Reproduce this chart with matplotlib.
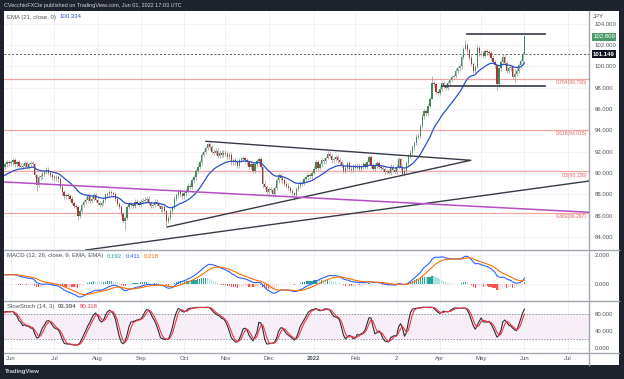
import numpy as np
import matplotlib.pyplot as plt
from matplotlib.patches import Rectangle
from matplotlib.lines import Line2D
from matplotlib.ticker import FormatStrFormatter

plt.rcParams['font.family'] = ['Liberation Sans', 'DejaVu Sans']

W, H = 624, 379

# ---------------------------------------------------------------
# datos: cierres diarios CAD/JPY (un valor por dia habil)
# warmup = abr-may 2021, solo para que arranquen EMA / MACD / estocastico
warmup_closes = [87.9, 87.7, 87.5, 87.3, 87.2,
                 87.0, 87.1, 86.9, 86.8, 86.9,
                 86.4, 86.2, 87.4, 87.5, 87.3,
                 87.6, 87.8, 88.1, 88.7, 89.0,
                 88.8, 89.1, 89.3, 89.9, 90.2,
                 90.4, 90.1, 89.8, 89.7, 90.1,
                 90.2, 90.4, 90.0, 90.3, 90.2,
                 90.3, 90.4, 90.6, 90.8, 91.0,
                 90.9]
jun21 = [91.0, 91.2, 90.8, 91.0,
         90.7, 90.6, 90.7, 90.9, 90.6,
         90.8, 90.9, 90.8, 89.8, 88.9,
         89.6, 89.7, 89.9, 90.1, 90.3,
         90.0, 89.8, 89.6]
jul21 = [89.5, 89.6,
         89.4, 88.7, 88.2, 87.8, 87.9,
         87.8, 87.6, 87.2, 86.9, 86.8,
         86.0, 86.4, 87.0, 87.3, 87.5,
         87.8, 87.4, 87.6, 87.9, 87.5]
aug21 = [87.2, 87.0, 87.2, 87.5, 87.9,
         88.0, 88.2, 88.1, 88.0, 87.6,
         87.1, 86.8, 86.2, 85.5, 85.8,
         86.8, 87.1, 87.0, 86.9, 87.3,
         87.2, 87.0]
sep21 = [87.3, 87.4, 87.5,
         87.6, 87.2, 86.9, 87.0, 87.3,
         87.1, 86.9, 86.6, 86.8, 86.4,
         85.5, 85.8, 86.4, 86.8, 87.6,
         87.9, 88.3, 88.0, 87.8]
oct21 = [88.1,
         88.3, 88.8, 88.7, 89.3, 89.6,
         90.2, 90.6, 91.0, 91.7, 92.0,
         92.3, 92.7, 92.4, 92.0, 91.9,
         92.1, 91.6, 91.9, 91.7, 91.9]
nov21 = [91.8, 91.5, 91.7, 91.0, 91.2,
         91.0, 90.7, 91.2, 91.3, 91.4,
         91.2, 91.0, 90.6, 90.8, 90.2,
         90.8, 91.1, 91.3, 90.6, 89.0,
         88.7, 88.2]
dec21 = [88.5, 88.4, 88.0,
         88.6, 89.3, 89.8, 89.5, 89.3,
         89.0, 88.8, 88.6, 88.3, 88.1,
         87.9, 88.5, 88.8, 89.0, 89.1,
         89.4, 89.6, 89.8, 89.7, 90.0]
jan22 = [90.4, 91.0, 90.5, 90.8, 91.2,
         91.1, 91.4, 91.8, 91.6, 91.2,
         91.3, 91.5, 91.2, 91.0, 90.7,
         90.2, 90.5, 90.9, 90.4, 90.3,
         90.6]
feb22 = [90.5, 90.7, 90.4, 90.6,
         90.8, 90.6, 91.0, 91.5, 90.7,
         90.4, 90.7, 90.9, 90.6, 90.5,
         90.4, 90.1, 90.2, 90.0, 90.6,
         90.3]
mar22 = [90.1, 90.6, 91.3, 90.5,
         89.9, 90.2, 90.9, 91.6, 91.9,
         92.4, 92.8, 93.4, 93.5, 94.4,
         95.3, 95.8, 95.6, 96.3, 96.9,
         98.4, 98.3, 97.6, 97.5]
apr22 = [97.9,
         98.4, 98.2, 98.0, 98.4, 98.7,
         99.0, 99.1, 99.6, 99.8, 100.0,
         100.9, 101.6, 102.0, 101.5, 100.8,
         100.2, 99.6, 99.9, 101.7, 101.2]
may22 = [101.2, 101.0, 101.4, 101.3, 101.2,
         100.8, 100.4, 100.1, 98.3, 99.8,
         100.4, 100.9, 100.3, 99.6, 99.8,
         99.9, 99.0, 99.3, 99.6, 100.1,
         100.5, 101.15]
jun22 = [102.809]

# mechas largas (indice de barra desde 1-jun-2021: (maximo, minimo))
long_wicks = {12: (90.9, 89.6), 13: (89.9, 88.3), 34: (87.0, 85.6), 57: (86.3, 85.3),
              58: (86.0, 84.7), 79: (86.5, 85.0), 100: (92.85, 92.2), 128: (90.7, 88.6),
              144: (88.2, 87.5), 161: (92.1, 91.3), 200: (90.4, 89.75), 214: (99.05, 97.4),
              231: (102.45, 101.5), 237: (102.0, 99.8), 247: (100.2, 97.8), 256: (99.7, 98.5),
              261: (102.87, 101.1)}
wick = 0.22

# etiquetas del eje de tiempo (indice de barra)
month_pos = [0, 22, 44, 66, 88, 109, 131, 154, 175, 196, 218, 239, 261, 283]
month_lab = ['Jun', 'Jul', 'Aug', 'Sep', 'Oct', 'Nov', 'Dec', '2022', 'Feb', '2', 'Apr', 'May', 'Jun', 'Jul']

fib_levels = [98.790, 94.015, 90.156, 86.297]
fib_names = ['0.764', '0.618', '0.5', '0.382']
prev_close = 101.149

# ---------------------------------------------------------------
closes = np.array(warmup_closes + jun21 + jul21 + aug21 + sep21 + oct21 + nov21 +
                  dec21 + jan22 + feb22 + mar22 + apr22 + may22 + jun22)
n0 = len(warmup_closes)
x = np.arange(len(closes)) - n0
opens = np.r_[closes[0], closes[:-1]]
highs = np.maximum(opens, closes) + wick
lows = np.minimum(opens, closes) - wick
for k, (hi, lo) in long_wicks.items():
    highs[k + n0] = max(hi, max(opens[k + n0], closes[k + n0]))
    lows[k + n0] = min(lo, min(opens[k + n0], closes[k + n0]))


def ema(v, n):
    a = 2 / (n + 1)
    out = np.empty(len(v))
    out[0] = v[0]
    for i in range(1, len(v)):
        out[i] = a * v[i] + (1 - a) * out[i - 1]
    return out


def sma(v, n):
    out = np.copy(v)
    for i in range(n - 1, len(v)):
        out[i] = np.mean(v[i - n + 1:i + 1])
    return out


ema21 = ema(closes, 21)
macd = ema(closes, 12) - ema(closes, 26)
signal = ema(macd, 9)
hist = macd - signal

rawk = np.full(len(closes), 50.0)
for i in range(13, len(closes)):
    ll = lows[i - 13:i + 1].min()
    hh = highs[i - 13:i + 1].max()
    rawk[i] = 100 * (closes[i] - ll) / (hh - ll)
stk = sma(rawk, 3)
std = sma(stk, 3)

# ---------------------------------------------------------------
fig = plt.figure(figsize=(W / 100, H / 100), dpi=100, facecolor='#1e222d')
fig.patches.append(Rectangle((4 / W, 1 - 365 / H), 615 / W, 354 / H, transform=fig.transFigure,
                             facecolor='white', edgecolor='none', zorder=-10))


def px_axes(x0, y0, x1, y1):
    return fig.add_axes([x0 / W, 1 - y1 / H, (x1 - x0) / W, (y1 - y0) / H])


ax = px_axes(4, 11, 589, 249.5)
ax2 = px_axes(4, 250.5, 589, 300)
ax3 = px_axes(4, 301, 589, 352)

xlim = (-3.56, 293.8)
gridc = '#eef0f4'
labc = '#50535e'
fs = 4.3
for a in (ax, ax2, ax3):
    a.set_xlim(*xlim)
    a.set_facecolor('none')
    for s in a.spines.values():
        s.set_visible(False)
    a.yaxis.tick_right()
    a.tick_params(axis='y', length=0, pad=4, labelsize=fs, labelcolor=labc)
    a.tick_params(axis='x', length=0, pad=3, labelsize=fs, labelcolor=labc)
    a.set_xticks(month_pos)
    a.yaxis.set_major_formatter(FormatStrFormatter('%.3f'))
    a.grid(color=gridc, lw=0.6, zorder=0)
    a.set_axisbelow(True)
ax.set_xticklabels([])
ax2.set_xticklabels([])
ax3.set_xticklabels(month_lab)
for t in ax3.get_xticklabels():
    if t.get_text() == '2022':
        t.set_fontweight('bold')

# ---------------- panel principal
ax.set_ylim(82.83, 105.18)
ax.set_yticks(np.arange(84, 105, 2))

vis = x >= -5
up = closes >= opens
ax.vlines(x[vis], lows[vis], highs[vis], color='#9a9a9a', lw=0.5, zorder=2)
body = np.maximum(np.abs(closes - opens), 0.04)
ax.bar(x[vis], body[vis], bottom=np.minimum(opens, closes)[vis], width=0.66,
       color=np.where(up, '#3f8c5d', '#ab3434')[vis], lw=0, zorder=3)
ax.plot(x, ema21, color='#2b50c8', lw=0.9, zorder=4)

for lv, nm in zip(fib_levels, fib_names):
    ax.axhline(lv, color='#f5a3a3', lw=0.9, zorder=1)
    ax.text(0.997, lv - 0.12, '%s(%.3f)' % (nm, lv), transform=ax.get_yaxis_transform(),
            ha='right', va='top', fontsize=3.6, color='#e06666')

ax.axhline(prev_close, color='#555555', lw=0.7, ls=(0, (2, 2)), zorder=1)
ax.plot([231.7, 271.5], [103.0, 103.0], color='#363a45', lw=1.2, zorder=5)
ax.plot([219, 271.5], [98.18, 98.18], color='#363a45', lw=1.2, zorder=5)
ax.plot([99.1, 233.7, 79.4], [92.97, 91.19, 84.94], color='#363a45', lw=1.0, zorder=5)
ax.plot([38, 294], [82.78, 89.25], color='#363a45', lw=1.0, zorder=5)
ax.plot([-3.6, 293.8], [89.16, 86.32], color='#b44fc4', lw=1.1, zorder=5)

# ---------------- MACD
ax2.set_ylim(-1.136, 2.314)
ax2.set_yticks([0, 2])
hc = []
for i in range(len(hist)):
    p = hist[i - 1] if i else hist[i]
    if hist[i] >= 0:
        hc.append('#26a69a' if hist[i] > p else '#b2dfdb')
    else:
        hc.append('#ff5252' if hist[i] < p else '#ffcdd2')
hc = np.array(hc)
ax2.bar(x[vis], hist[vis], width=0.6, color=hc[vis], lw=0, zorder=2)
ax2.plot(x, macd, color='#2962ff', lw=0.8, zorder=3)
ax2.plot(x, signal, color='#ff6d00', lw=0.8, zorder=3)

# ---------------- estocastico
ax3.set_ylim(-10.2, 110.6)
ax3.set_yticks([0, 40, 80])
ax3.axhspan(20, 80, color='#f7eef7', lw=0, zorder=0)
for lv in (20, 80):
    ax3.axhline(lv, color='#9598a1', lw=0.7, ls=(0, (1.5, 1.5)), zorder=1)
ax3.plot(x, stk, color='#2a2e39', lw=0.8, zorder=3)
ax3.plot(x, std, color='#f23645', lw=0.8, zorder=3)

# ---------------- marcos, separadores y textos
sepc = '#a3a6af'
for yy in (249.9, 300.5, 352.5):
    fig.add_artist(Line2D([4 / W, 619 / W], [1 - yy / H] * 2, color=sepc, lw=1.0))
fig.add_artist(Line2D([589 / W] * 2, [1 - 11 / H, 1 - 365 / H], color=sepc, lw=1.0))


def ftxt(xp, yp, s, **kw):
    kw.setdefault('fontsize', fs)
    kw.setdefault('va', 'center')
    return fig.text(xp / W, 1 - yp / H, s, **kw)


def legend_row(xp, yp, parts):
    # cada trozo va pegado a la derecha del anterior
    prev = ftxt(xp, yp, parts[0][0], color=parts[0][1])
    for s, c in parts[1:]:
        prev = fig.add_artist(
            plt.Annotation(s, xy=(1, 0.5), xycoords=prev, xytext=(2.5, 0),
                           textcoords='offset points', va='center', ha='left',
                           fontsize=fs, color=c))


ftxt(4, 5.5, 'CVecchioFXCle published on TradingView.com, Jun 01, 2022 17:03 UTC', color='#d1d4dc', fontsize=4.0)
ftxt(5, 372, 'TradingView', color='#d1d4dc', fontsize=fs, fontweight='bold')

legend_row(7, 17, [('EMA (21, close, 0)', labc), ('100.334', '#2b50c8')])
legend_row(7, 256, [('MACD (12, 26, close, 9, EMA, EMA)', labc), ('0.192', '#26a69a'),
                    ('0.411', '#2962ff'), ('0.218', '#ff6d00')])
legend_row(7, 306.5, [('SlowStoch (14, 3)', labc), ('93.394', '#2a2e39'), ('80.118', '#f23645')])

ftxt(593, 16.5, 'JPY', color=labc)
fig.text(604 / W, 1 - 36.7 / H, '%.3f' % closes[-1], fontsize=fs, color='white', ha='center', va='center',
         bbox=dict(boxstyle='square,pad=0.25', facecolor='#4d9a6a', edgecolor='none'))
fig.text(604 / W, 1 - 54 / H, '%.3f' % prev_close, fontsize=fs, color='white', ha='center', va='center',
         fontweight='bold', bbox=dict(boxstyle='square,pad=0.25', facecolor='#131722', edgecolor='none'))

fig.savefig('out.png', dpi=100, facecolor=fig.get_facecolor())
